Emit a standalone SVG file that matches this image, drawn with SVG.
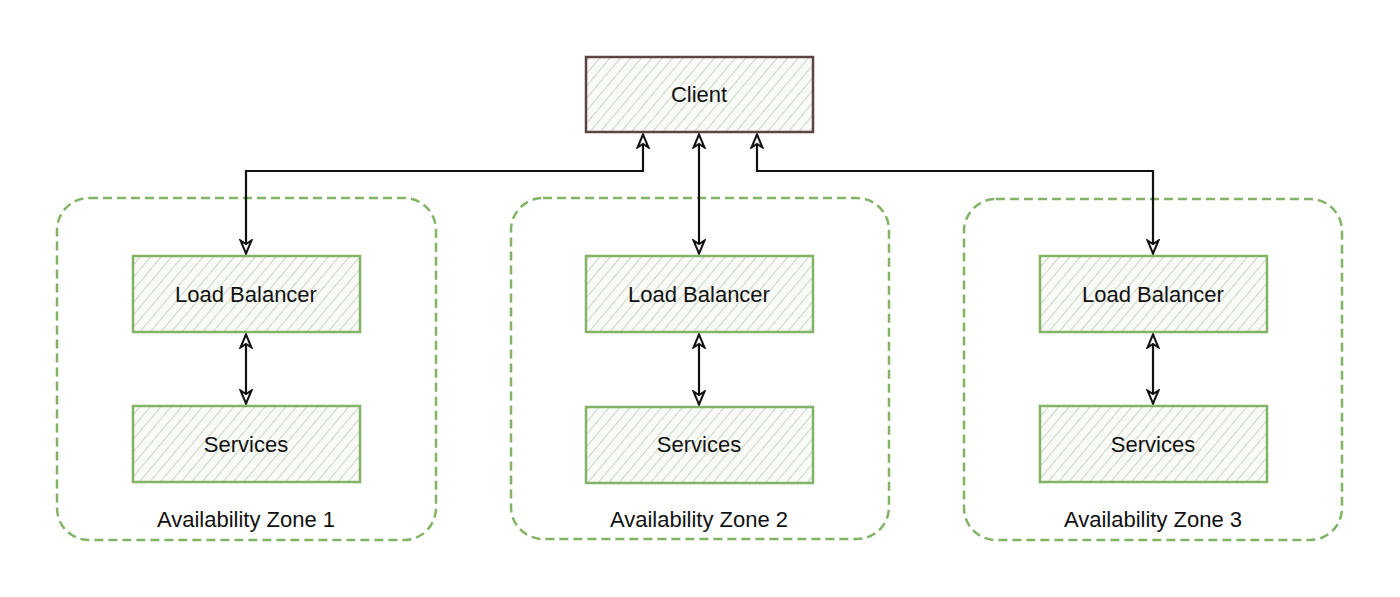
<svg xmlns="http://www.w3.org/2000/svg" width="1400" height="597" viewBox="0 0 1400 597">
<style>
.zone{fill:none;stroke:#82b366;stroke-width:2.5;stroke-dasharray:9 5}
.node{fill:url(#hatch);stroke:#82b366;stroke-width:2.5}
.client{fill:url(#hatch);stroke:#5e4444;stroke-width:2.5}
.lbl{font-family:"Liberation Sans",Arial,sans-serif;font-size:22px;fill:#111;text-anchor:middle}
.conn{fill:none;stroke:#111;stroke-width:2.2;marker-start:url(#arr);marker-end:url(#arr)}
</style>
<defs>
<pattern id="hatch" patternUnits="userSpaceOnUse" width="8" height="8" patternTransform="rotate(40)">
<rect width="8" height="8" fill="#fafbf8"/>
<line x1="0" y1="0" x2="0" y2="8" stroke="#cdd8c6" stroke-width="2.2"/>
</pattern>
<marker id="arr" viewBox="0 0 16 14" refX="15" refY="7" markerWidth="16" markerHeight="14" markerUnits="userSpaceOnUse" orient="auto-start-reverse">
<path d="M1.5,1.5 L14.5,7 L1.5,12.5 L5,7 Z" fill="#fff" stroke="#111" stroke-width="2" stroke-linejoin="miter"/>
</marker>
</defs>
<g id="zone1"><rect class="zone" x="57" y="198" width="379" height="342" rx="32"/><text class="lbl" x="246" y="527">Availability Zone 1</text></g>
<g id="zone2"><rect class="zone" x="511" y="198" width="378" height="341" rx="32"/><text class="lbl" x="699" y="527">Availability Zone 2</text></g>
<g id="zone3"><rect class="zone" x="964" y="199" width="378" height="341" rx="32"/><text class="lbl" x="1153" y="527">Availability Zone 3</text></g>
<g id="client"><rect class="client" x="586" y="57" width="227" height="75"/><text class="lbl" x="699" y="102">Client</text></g>
<g id="lb1"><rect class="node" x="133" y="256" width="227" height="76"/><text class="lbl" x="246" y="302">Load Balancer</text></g>
<g id="svc1"><rect class="node" x="133" y="406" width="227" height="76"/><text class="lbl" x="246" y="452">Services</text></g>
<g id="lb2"><rect class="node" x="586" y="256" width="227" height="76"/><text class="lbl" x="699" y="302">Load Balancer</text></g>
<g id="svc2"><rect class="node" x="586" y="407" width="227" height="76"/><text class="lbl" x="699" y="452">Services</text></g>
<g id="lb3"><rect class="node" x="1040" y="256" width="227" height="76"/><text class="lbl" x="1153" y="302">Load Balancer</text></g>
<g id="svc3"><rect class="node" x="1040" y="406" width="227" height="76"/><text class="lbl" x="1153" y="452">Services</text></g>
<g id="connectors">
<path class="conn" d="M643,134 L643,171 L246,171 L246,254"/>
<path class="conn" d="M699,134 L699,254"/>
<path class="conn" d="M757,134 L757,171 L1153,171 L1153,254"/>
<path class="conn" d="M246,334 L246,404"/>
<path class="conn" d="M699,334 L699,405"/>
<path class="conn" d="M1153,334 L1153,404"/>
</g>
</svg>
